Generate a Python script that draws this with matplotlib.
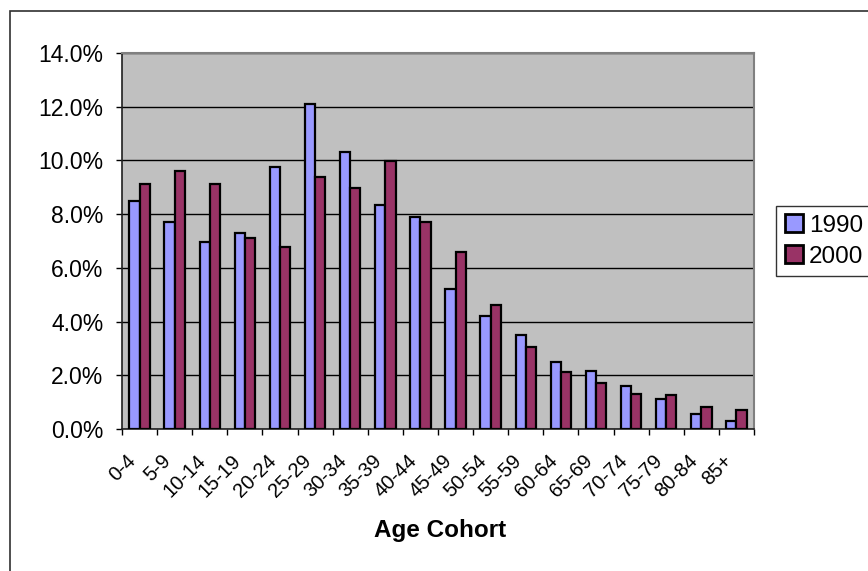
import numpy as np
import matplotlib
matplotlib.use('Agg')
import matplotlib.pyplot as plt
from matplotlib.ticker import PercentFormatter, FixedLocator
from matplotlib.patches import Rectangle

plt.rcParams['font.family'] = ['Liberation Sans', 'DejaVu Sans']

# data (percent of population by age cohort)
cohorts = ['0-4', '5-9', '10-14', '15-19', '20-24', '25-29', '30-34', '35-39', '40-44',
           '45-49', '50-54', '55-59', '60-64', '65-69', '70-74', '75-79', '80-84', '85+']
pct_1990 = [8.50, 7.70, 6.97, 7.31, 9.74, 12.09, 10.30, 8.33, 7.89,
            5.20, 4.21, 3.49, 2.48, 2.15, 1.60, 1.11, 0.56, 0.29]
pct_2000 = [9.12, 9.62, 9.11, 7.10, 6.76, 9.38, 8.98, 9.98, 7.70,
            6.60, 4.62, 3.06, 2.11, 1.72, 1.30, 1.27, 0.81, 0.70]
series = ['1990', '2000']
colors = ['#9999FF', '#993366']

W, H = 868, 571
fig = plt.figure(figsize=(W / 100, H / 100), dpi=100)
ax = fig.add_axes([122 / W, 1 - 429 / H, (754 - 122) / W, (429 - 53) / H])
ax.set_facecolor('#C0C0C0')

x = np.arange(len(cohorts))
bw = 0.29
ax.bar(x - bw / 2, pct_1990, width=bw, color=colors[0], edgecolor='black',
       linewidth=1.6, label=series[0], zorder=3)
ax.bar(x + bw / 2, pct_2000, width=bw, color=colors[1], edgecolor='black',
       linewidth=1.6, label=series[1], zorder=3)

ax.set_xlim(-0.5, len(cohorts) - 0.5)
ax.set_ylim(0, 14)
ax.set_yticks(np.arange(0, 15, 2))
ax.yaxis.set_major_formatter(PercentFormatter(decimals=1))
ax.yaxis.grid(True, color='black', linewidth=1, zorder=1)
ax.set_axisbelow(True)

# category labels at centres, tick marks at boundaries
ax.set_xticks(x)
ax.set_xticklabels(cohorts, rotation=45, ha='right', va='top', fontsize=14.5)
ax.xaxis.set_minor_locator(FixedLocator(np.arange(-0.5, len(cohorts), 1)))
ax.tick_params(axis='x', which='major', length=0, pad=16)
ax.tick_params(axis='x', which='minor', length=4.5, width=1, color='black')
ax.tick_params(axis='y', length=4.5, width=1, color='black', pad=9, labelsize=16.5)

for s in ['top', 'right']:
    ax.spines[s].set_color('#808080')
    ax.spines[s].set_linewidth(1.5)
for s in ['left', 'bottom']:
    ax.spines[s].set_color('#202020')
    ax.spines[s].set_linewidth(1.2)

fig.text(440 / W, 1 - 531 / H, 'Age Cohort', ha='center', va='center',
         fontsize=17.5, fontweight='bold')

leg = ax.legend(loc='center left', bbox_to_anchor=(776 / W, 1 - 241 / H),
                bbox_transform=fig.transFigure, fontsize=17.5, frameon=True,
                fancybox=False, edgecolor='black', handlelength=0.75,
                handleheight=0.75, handletextpad=0.25, borderpad=0.35,
                labelspacing=0.35, borderaxespad=0)
leg.get_frame().set_linewidth(1)
for p in leg.get_patches():
    p.set_linewidth(2)

# outer chart border (only left and top visible in the crop)
fig.add_artist(Rectangle((10 / W, -0.1), 1.2, (H - 11) / H + 0.1,
                         transform=fig.transFigure, fill=False,
                         edgecolor='#303030', linewidth=1.2))

fig.savefig('out.png', dpi=100)
